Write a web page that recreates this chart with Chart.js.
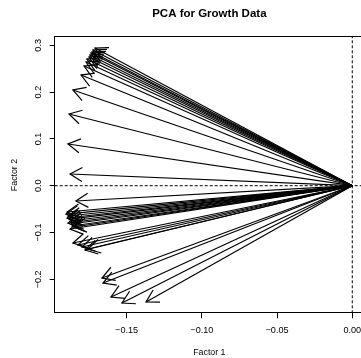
<!DOCTYPE html>
<html><head><meta charset="utf-8">
<script src="https://cdn.jsdelivr.net/npm/chart.js@4/dist/chart.umd.min.js"></script>
<style>html,body{margin:0;padding:0;overflow:hidden;background:#fff}canvas{display:block}</style>
</head><body>
<canvas id="c" width="364" height="358"></canvas>
<script>
const factor1 = [-0.1710,-0.1724,-0.1730,-0.1737,-0.1744,-0.1750,-0.1764,-0.1770,-0.1783,-0.1803,
  -0.1857,-0.1883,-0.1890,-0.1876,-0.1837,-0.1896,-0.1903,-0.1890,-0.1896,-0.1883,
  -0.1876,-0.1890,-0.1870,-0.1863,-0.1850,-0.1876,-0.1857,-0.1823,-0.1797,-0.1777,
  -0.1757,-0.1664,-0.1657,-0.1604,-0.1531,-0.1371];
const factor2 = [0.2942,0.2900,0.2857,0.2835,0.2793,0.2750,0.2707,0.2643,0.2558,0.2365,
  0.2045,0.1532,0.0891,0.0250,-0.0327,-0.0562,-0.0605,-0.0647,-0.0690,-0.0712,
  -0.0754,-0.0797,-0.0818,-0.0861,-0.0882,-0.0925,-0.1224,-0.1267,-0.1310,-0.1374,
  -0.1353,-0.1972,-0.2079,-0.2378,-0.2506,-0.2485];
const xTickValues = [-0.15, -0.10, -0.05, 0.00];
const xTickLabels = ['\u22120.15', '\u22120.10', '\u22120.05', '0.00'];
const yTickValues = [-0.2, -0.1, 0.0, 0.1, 0.2, 0.3];
const yTickLabels = ['\u22120.2', '\u22120.1', '0.0', '0.1', '0.2', '0.3'];
const xLimits = [-0.1978, 0.0078];
const yLimits = [-0.2726, 0.3184];
const titleText = 'PCA for Growth Data';
const xTitle = 'Factor 1';
const yTitle = 'Factor 2';

const FONT = "'Liberation Sans', Arial, Helvetica, sans-serif";
const datasets = [];
datasets.push({data:[{x:xLimits[0],y:0},{x:xLimits[1],y:0}], borderColor:'#000', borderWidth:1, borderDash:[3,2], pointRadius:0, showLine:true});
datasets.push({data:[{x:0,y:yLimits[0]},{x:0,y:yLimits[1]}], borderColor:'#000', borderWidth:1, borderDash:[3,2], pointRadius:0, showLine:true});
for (let i = 0; i < factor1.length; i++) {
  datasets.push({isArrow:true, data:[{x:0,y:0},{x:factor1[i],y:factor2[i]}], borderColor:'#000', borderWidth:1.2, pointRadius:0, showLine:true});
}

const arrowHeads = {
  id:'arrowHeads',
  afterDatasetsDraw(chart){
    const ctx = chart.ctx, L = 14;
    chart.data.datasets.forEach((ds,i)=>{
      if(!ds.isArrow) return;
      const pts = chart.getDatasetMeta(i).data;
      const a = pts[0], b = pts[1];
      const ang = Math.atan2(b.y-a.y, b.x-a.x);
      ctx.save(); ctx.strokeStyle='#000'; ctx.lineWidth=1.2;
      ctx.beginPath();
      ctx.moveTo(b.x - L*Math.cos(ang - Math.PI/6), b.y - L*Math.sin(ang - Math.PI/6));
      ctx.lineTo(b.x, b.y);
      ctx.lineTo(b.x - L*Math.cos(ang + Math.PI/6), b.y - L*Math.sin(ang + Math.PI/6));
      ctx.stroke(); ctx.restore();
    });
    const ca = chart.chartArea;
    ctx.save(); ctx.strokeStyle='#000'; ctx.lineWidth=1;
    ctx.strokeRect(Math.round(ca.left)-0.5, Math.round(ca.top)-0.5, Math.round(ca.right)-Math.round(ca.left)+1, Math.round(ca.bottom)-Math.round(ca.top));
    ctx.restore();
  }
};

new Chart(document.getElementById('c'), {
  type:'scatter',
  data:{datasets},
  options:{
    responsive:false, animation:false, devicePixelRatio:1,
    layout:{padding:0},
    plugins:{
      legend:{display:false}, tooltip:{enabled:false},
      title:{display:true, text:titleText, fullSize:false, color:'#000',
        font:{family:FONT, size:11.5, weight:'bold'}, padding:{top:6.6, bottom:16.3}}
    },
    scales:{
      x:{type:'linear', min:xLimits[0], max:xLimits[1],
        afterBuildTicks:(s)=>{ s.ticks = xTickValues.map(v=>({value:v})); },
        afterFit:(s)=>{ s.height = 44.7; s.paddingLeft = 0; s.paddingRight = 0; },
        ticks:{color:'#000', font:{family:FONT, size:9.1}, padding:6.9, maxRotation:0, minRotation:0,
          callback:(v,i)=>xTickLabels[i]},
        grid:{drawOnChartArea:false, tickLength:5, tickColor:'#000', color:'#000'},
        border:{display:false},
        title:{display:true, text:xTitle, color:'#000', font:{family:FONT, size:8.8}, padding:{top:0,bottom:0}}
      },
      y:{type:'linear', min:yLimits[0], max:yLimits[1],
        afterBuildTicks:(s)=>{ s.ticks = yTickValues.map(v=>({value:v})); },
        afterFit:(s)=>{ s.width = 54.7; s.paddingTop = 0; s.paddingBottom = 0; },
        ticks:{color:'#000', font:{family:FONT, size:9.1}, padding:2.7, minRotation:90, maxRotation:90, crossAlign:'center',
          callback:(v,i)=>yTickLabels[i]},
        grid:{drawOnChartArea:false, tickLength:5, tickColor:'#000', color:'#000'},
        border:{display:false},
        title:{display:true, text:yTitle, color:'#000', font:{family:FONT, size:8.8}, padding:{top:9,bottom:0}}
      }
    }
  },
  plugins:[arrowHeads]
});
</script>
</body></html>
